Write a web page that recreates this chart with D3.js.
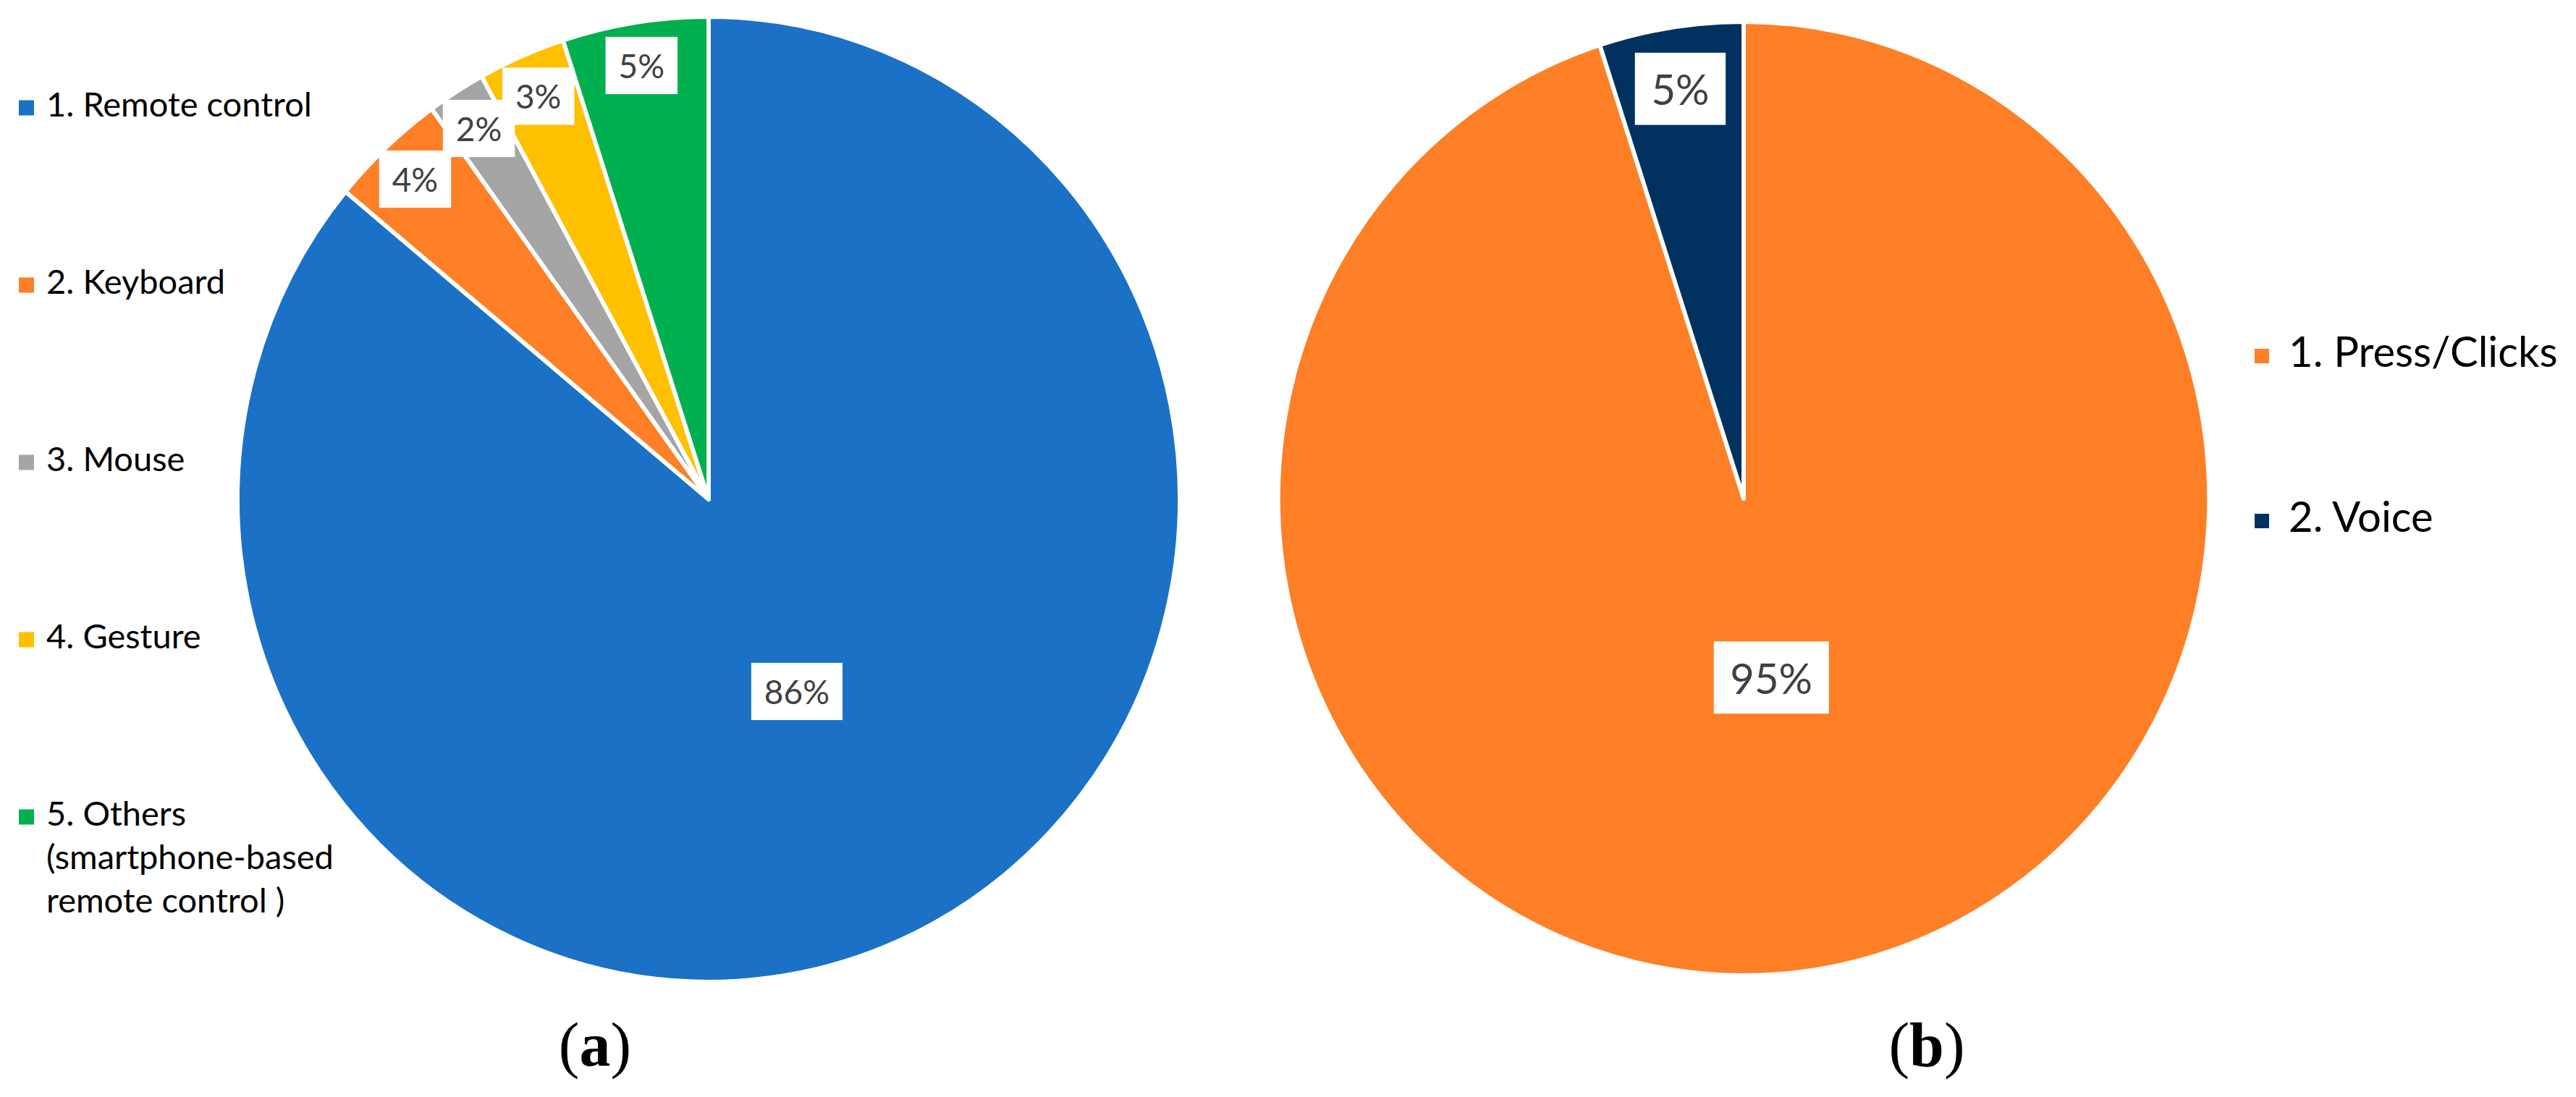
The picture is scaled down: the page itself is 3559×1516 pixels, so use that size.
<!DOCTYPE html>
<html>
<head>
<meta charset="utf-8">
<script src="https://cdn.jsdelivr.net/npm/d3@7"></script>
<style>
  body { margin: 0; background: #fff; }
  text { font-family: Lato, "Open Sans", sans-serif; }
</style>
</head>
<body>
<div id="chart"></div>
<script>
// (a) input devices
var devicesA = ["1. Remote control", "2. Keyboard", "3. Mouse", "4. Gesture",
  "5. Others\n(smartphone-based\nremote control )"]
var sharesA = [86, 4, 2, 3, 5]
var colorsA = ["#1a71c6", "#fe7f26", "#a5a5a5", "#ffc000", "#00b04f"]

// (b) interaction types
var actionsB = ["1. Press/Clicks", "2. Voice"]
var sharesB = [95, 5]
var colorsB = ["#fe7f26", "#00315f"]

var captions = ["a", "b"]

var width = 3559, height = 1516

var svg = d3.select('#chart').append('svg')
  .attr('width', width)
  .attr('height', height)

function drawPie(values, colors, o) {
  var pie = d3.pie().sort(null).value(function(d) { return d })
  var arcs = pie(values)
  var arc = d3.arc().innerRadius(0).outerRadius(o.r)

  var g = svg.append('g')
    .attr('transform', 'translate(' + o.cx + ',' + o.cy + ') scale(' + o.sx + ',1)')

  g.selectAll('path')
    .data(arcs)
    .enter().append('path')
    .attr('d', arc)
    .attr('fill', function(d, i) { return colors[i] })
    .attr('stroke', '#fff')
    .attr('stroke-width', 6)
    .attr('stroke-linejoin', 'round')

  // data labels in white boxes
  var lab = svg.append('g')
  arcs.forEach(function(d) {
    var k = d.data >= 50 ? o.labelIn : o.labelOut
    var la = d3.arc().innerRadius(o.r * k).outerRadius(o.r * k)
    var c = la.centroid(d)
    var x = o.cx + c[0] * o.sx, y = o.cy + c[1]
    var box = lab.append('rect').attr('fill', '#fff')
    var t = lab.append('text')
      .attr('x', x)
      .attr('y', y)
      .attr('text-anchor', 'middle')
      .attr('dominant-baseline', 'central')
      .attr('font-size', o.fs)
      .attr('fill', '#404040')
      .text(d.data + '%')
    var bb = t.node().getBBox()
    var bw = bb.width + o.fs * 0.78, bh = o.fs * 1.72
    box.attr('x', x - bw / 2).attr('y', y - bh / 2)
      .attr('width', bw).attr('height', bh)
  })
}

function drawLegend(names, colors, o) {
  var g = svg.append('g')
  names.forEach(function(name, i) {
    var y = o.y0 + i * o.step
    g.append('rect')
      .attr('x', o.x)
      .attr('y', y - o.m / 2)
      .attr('width', o.m)
      .attr('height', o.m)
      .attr('fill', colors[i])
    var t = g.append('text')
      .attr('x', o.tx)
      .attr('y', y + o.fs * 0.25)
      .attr('font-size', o.fs)
      .attr('fill', '#000')
    name.split('\n').forEach(function(line, j) {
      t.append('tspan')
        .attr('x', o.tx)
        .attr('dy', j == 0 ? 0 : o.lh)
        .text(line)
    })
  })
}

drawPie(sharesA, colorsA, {cx: 979, cy: 690, r: 667, sx: 0.976, labelIn: 0.44, labelOut: 0.91, fs: 46})
drawPie(sharesB, colorsB, {cx: 2409, cy: 689, r: 659, sx: 0.976, labelIn: 0.38, labelOut: 0.87, fs: 58})

drawLegend(devicesA, colorsA, {x: 26, tx: 64, y0: 149, step: 245, m: 21, fs: 47, lh: 60})
drawLegend(actionsB, colorsB, {x: 3115, tx: 3162, y0: 492, step: 228, m: 20, fs: 58, lh: 60})

// sub captions
var capX = [822, 2662]
captions.forEach(function(c, i) {
  var t = svg.append('text')
    .attr('x', capX[i])
    .attr('y', 1473)
    .attr('text-anchor', 'middle')
    .attr('font-size', 86)
    .style('font-family', '"Liberation Serif", "Times New Roman", serif')
    .attr('fill', '#000')
  t.append('tspan').text('(')
  t.append('tspan').attr('font-weight', 'bold').text(c)
  t.append('tspan').text(')')
})
</script>
</body>
</html>
